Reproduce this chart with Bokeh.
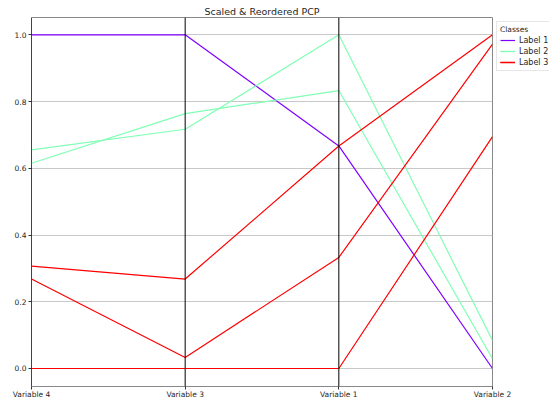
from bokeh.plotting import figure
from bokeh.models import Range1d, FixedTicker, Span, Legend, LegendItem, NumeralTickFormatter
from bokeh.embed import file_html
from bokeh.resources import INLINE

variables = ["Variable 4", "Variable 3", "Variable 1", "Variable 2"]
classes = ["Label 1", "Label 2", "Label 2", "Label 3", "Label 3", "Label 3"]
var4 = [1.0, 0.655, 0.615, 0.307, 0.268, 0.0]
var3 = [1.0, 0.717, 0.764, 0.268, 0.033, 0.0]
var1 = [0.667, 1.0, 0.833, 0.667, 0.333, 0.0]
var2 = [0.0, 0.084, 0.029, 1.0, 0.972, 0.695]
class_names = ["Label 1", "Label 2", "Label 3"]
class_colors = ["#8000ff", "#80ffb4", "#ff0000"]
y_ticks = [0.0, 0.2, 0.4, 0.6, 0.8, 1.0]

FONT = "DejaVu Sans"

p = figure(frame_width=461, frame_height=369, output_backend="svg", toolbar_location=None,
           x_range=Range1d(0, len(variables) - 1), y_range=Range1d(-0.054, 1.052),
           min_border_left=31, min_border_right=0, min_border_top=17, min_border_bottom=14,
           title="Scaled & Reordered PCP")
p.title.align = "center"
p.title.text_font = FONT
p.title.text_font_size = "9.5px"
p.title.text_font_style = "normal"
p.title.text_color = "#262626"
p.title.standoff = 2
p.title.offset = 0

p.background_fill_color = "white"
p.outline_line_color = "#888888"
p.outline_line_width = 1

# axes
p.xaxis.ticker = FixedTicker(ticks=list(range(len(variables))))
p.xaxis.major_label_overrides = {i: v for i, v in enumerate(variables)}
p.yaxis.ticker = FixedTicker(ticks=y_ticks)
p.yaxis.formatter = NumeralTickFormatter(format="0.0")
for ax in (p.xaxis, p.yaxis):
    ax.axis_line_color = None
    ax.major_tick_line_color = "#333333"
    ax.major_tick_out = 3
    ax.major_tick_in = 0
    ax.minor_tick_line_color = None
    ax.major_label_text_font = FONT
    ax.major_label_text_font_size = "7.5px"
    ax.major_label_text_color = "#262626"
p.xaxis.major_label_standoff = 0
p.yaxis.major_label_standoff = 2

p.xgrid.grid_line_color = None
p.ygrid.grid_line_color = "#c8c8c8"
p.ygrid.grid_line_width = 1

# data rows
rows = list(zip(var4, var3, var1, var2))
xs = list(range(len(variables)))
renderers = {c: [] for c in class_names}
for cls, vals in zip(classes, rows):
    color = class_colors[class_names.index(cls)]
    r = p.line(xs, list(vals), line_color=color, line_width=1.2)
    renderers[cls].append(r)

# vertical axes lines
for i in xs[:-1]:
    p.add_layout(Span(location=i, dimension="height", line_color="black", line_width=1))

legend = Legend(items=[LegendItem(label=c, renderers=renderers[c]) for c in class_names],
                location="top_left")
legend.title = "Classes"
legend.title_text_font = FONT
legend.title_text_font_size = "7.5px"
legend.title_text_font_style = "normal"
legend.title_text_color = "#262626"
legend.title_standoff = 1
legend.label_text_font = FONT
legend.label_text_font_size = "8px"
legend.label_text_color = "#262626"
legend.label_height = 10
legend.label_standoff = 4
legend.glyph_width = 15
legend.glyph_height = 10
legend.spacing = 1
legend.padding = 3
legend.margin = 4
legend.border_line_color = "#d0d0d0"
legend.border_line_width = 1
legend.background_fill_alpha = 1
p.add_layout(legend, "right")

open("out.html", "w").write(file_html(p, INLINE))
